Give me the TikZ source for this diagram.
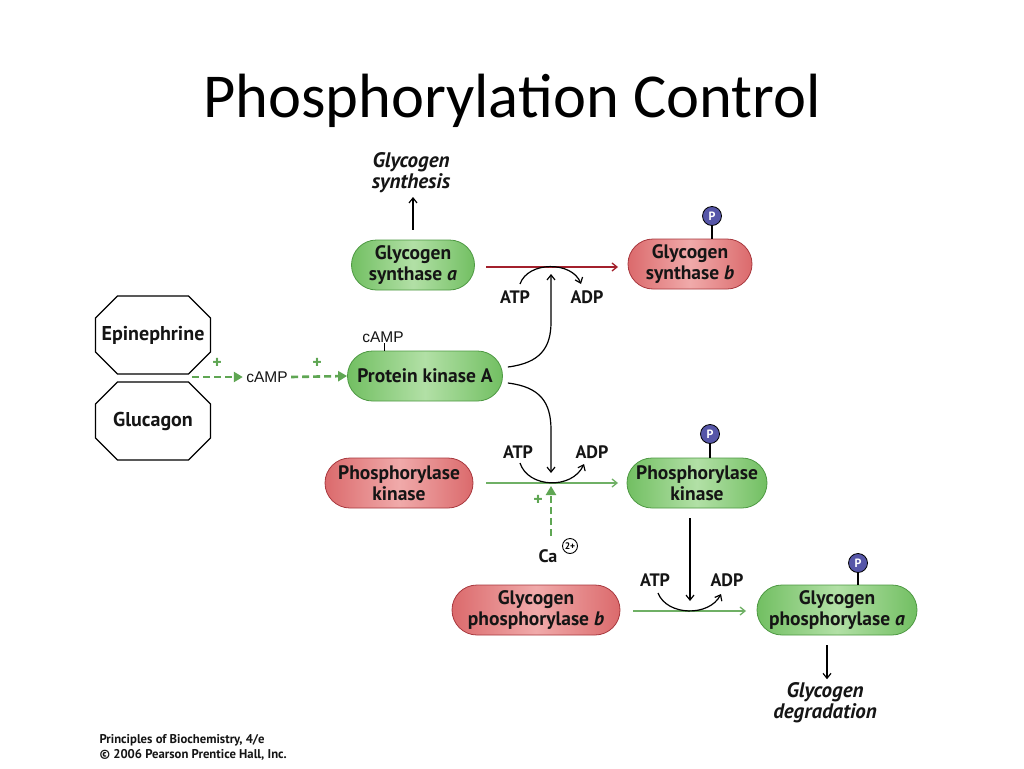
\documentclass[tikz,border=0pt]{standalone}
\usepackage{fontspec}
\setmainfont{Carlito}
\newfontfamily\lab{PT Sans}
\newfontfamily\arl{Liberation Sans}
\usetikzlibrary{arrows.meta,calc}
\definecolor{glight}{HTML}{B2E0A6}
\definecolor{gdark}{HTML}{72BF62}
\definecolor{gborder}{HTML}{4E9943}
\definecolor{rlight}{HTML}{F0AAAA}
\definecolor{rdark}{HTML}{DB6A6C}
\definecolor{rborder}{HTML}{A8383E}
\definecolor{dashg}{HTML}{5FA653}
\definecolor{linegreen}{HTML}{6FB065}
\definecolor{darkred}{HTML}{A3202C}
\definecolor{pcol}{HTML}{5656A8}
\definecolor{txt}{HTML}{151515}
\tikzset{
  pill/.style={line width=0.8pt, rounded corners=25pt, minimum height=50pt,
     align=center, text=txt, inner sep=1pt,
     font=\lab\bfseries\fontsize{19.5}{21}\selectfont},
  greenpill/.style={pill, draw=gborder, shading=axis, left color=gdark, right color=gdark, middle color=glight},
  redpill/.style={pill, draw=rborder, shading=axis, left color=rdark, right color=rdark, middle color=rlight},
  octo/.style={draw=black, line width=1.2pt},
  octolabel/.style={font=\lab\bfseries\fontsize{20}{22}\selectfont, text=txt},
  pball/.style={circle, draw=black, line width=0.8pt, fill=pcol, minimum size=19pt, inner sep=0pt,
     text=white, font=\lab\bfseries\fontsize{12}{12}\selectfont},
  stick/.style={draw=black, line width=1.4pt},
  blk/.style={draw=black, line width=1.2pt, -{Straight Barb[length=5pt,width=8pt]}},
  dasharrow/.style={draw=dashg, line width=2.6pt, dash pattern=on 7pt off 4pt, -{Triangle[length=9pt,width=10pt]}},
  plus/.style={text=dashg, font=\lab\bfseries\fontsize{18}{18}\selectfont},
  atp/.style={font=\lab\bfseries\fontsize{18}{18}\selectfont, text=txt},
  outlabel/.style={font=\lab\bfseries\itshape\fontsize{21}{21}\selectfont, align=center, text=txt},
  camp/.style={font=\arl\fontsize{15.5}{15.5}\selectfont, text=txt},
  foot/.style={font=\lab\bfseries\fontsize{12.7}{15}\selectfont, align=left, text=txt, anchor=west}
}
\begin{document}
\begin{tikzpicture}[x=1pt,y=-1pt]
\useasboundingbox (0,0) rectangle (1024,768);
\fill[white] (0,0) rectangle (1024,768);

% title
\node[font=\fontsize{62.5}{70}\selectfont, anchor=base] (title) at (512,117) {Phosphorylation Control};

% top row
\node[outlabel] (gsyn) at (411,173) {Glycogen\\synthesis};
\node[greenpill, minimum width=123pt] (gsa) at (413,265) {Glycogen\\synthase \textit{a}};
\node[redpill, minimum width=124pt] (gsb) at (690,264) {Glycogen\\synthase \textit{b}};
\node[pball] (p1) at (712,216) {P};
\draw[stick] (p1.south) -- (gsb.north -| p1);
\coordinate (gsyntip) at (413,197);
\draw[blk] ([yshift=10pt]gsa.north) -- (gsyntip);

\coordinate (r1s) at (486,267);
\coordinate (r1e) at (618,267);
\draw[darkred, line width=1.3pt, -{Straight Barb[length=5pt,width=8pt]}] (r1s) -- (r1e);
\node[atp] (atp1) at (515,297) {ATP};
\node[atp] (adp1) at (587,297) {ADP};
\coordinate (a1s) at (520,284);
\coordinate (a1e) at (581,284);
\draw[blk] (a1s) .. controls (528,261) and (572,261) .. (a1e);

% left side
\node[octolabel] (epi) at (153,335) {Epinephrine};
\node[octolabel] (glu) at (153,421) {Glucagon};
\foreach \n in {epi,glu}{
  \draw[octo] ($(\n.center)+(-57.5,-17)$) -- ($(\n.center)+(-35.5,-39)$) -- ($(\n.center)+(35.5,-39)$)
    -- ($(\n.center)+(57.5,-17)$) -- ($(\n.center)+(57.5,17)$) -- ($(\n.center)+(35.5,39)$)
    -- ($(\n.center)+(-35.5,39)$) -- ($(\n.center)+(-57.5,17)$) -- cycle;
}
\coordinate (hs) at (192,377);
\node[camp] (camp1) at (267,377) {cAMP};
\node[greenpill, minimum width=155pt] (pka) at (425,376) {Protein kinase A};
\draw[dasharrow] (hs) -- (camp1.west);
\draw[dasharrow] (camp1.east) -- (pka.west);
\node[plus] at (217,363) {+};
\node[plus] at (317,363) {+};
\node[camp] (camp2) at (383,337) {cAMP};
\draw[line width=1pt] (384,343) -- (pka.north -| 384,0);

% PKA curves
\coordinate (k1) at (551,274);
\coordinate (k2) at (551,473);
\draw[blk] ([shift={(5pt,9pt)}]pka.east) .. controls (540,363) and (551,348) .. (551,322) -- (k1);
\draw[blk] ([shift={(5pt,-7pt)}]pka.east) .. controls (540,387) and (551,402) .. (551,430) -- (k2);

% middle row
\node[redpill, minimum width=148pt] (pkr) at (399,483) {Phosphorylase\\kinase};
\node[greenpill, minimum width=140pt] (pkg) at (697,483) {Phosphorylase\\kinase};
\node[pball] (p2) at (710,434) {P};
\draw[stick] (p2.south) -- (pkg.north -| p2);
\coordinate (g1s) at (486,483);
\coordinate (g1e) at (618,483);
\draw[linegreen, line width=1.3pt, -{Straight Barb[length=5pt,width=8pt]}] (g1s) -- (g1e);
\node[atp] (atp2) at (518,452) {ATP};
\node[atp] (adp2) at (592,452) {ADP};
\coordinate (a2s) at (520,463);
\coordinate (a2e) at (584,464);
\draw[blk] (a2s) .. controls (528,488) and (572,490) .. (a2e);

\node[font=\lab\bfseries\fontsize{18}{18}\selectfont, text=txt] (ca) at (548,556) {Ca};
\node[circle, draw=black, line width=0.9pt, inner sep=0.3pt, minimum size=15pt,
      font=\lab\bfseries\fontsize{9.5}{9.5}\selectfont] (ca2) at (570,546) {2+};
\coordinate (cs) at (551,536);
\coordinate (ce) at (551,486);
\draw[dasharrow] (cs) -- (ce);
\node[plus] at (538,500) {+};

% bottom row
\coordinate (v3s) at (690,518);
\coordinate (v3e) at (690,601);
\draw[blk] (v3s) -- (v3e);
\node[redpill, minimum width=168pt] (gpb) at (536,610) {Glycogen\\phosphorylase \textit{b}};
\node[greenpill, minimum width=160pt] (gpa) at (837,610) {Glycogen\\phosphorylase \textit{a}};
\node[pball] (p3) at (858,563) {P};
\draw[stick] (p3.south) -- (gpa.north -| p3);
\coordinate (g2s) at (633,611);
\coordinate (g2e) at (746,611);
\draw[linegreen, line width=1.3pt, -{Straight Barb[length=5pt,width=8pt]}] (g2s) -- (g2e);
\node[atp] (atp3) at (655,580) {ATP};
\node[atp] (adp3) at (727,580) {ADP};
\coordinate (a3s) at (658,593);
\coordinate (a3e) at (721,594);
\draw[blk] (a3s) .. controls (667,616) and (709,617) .. (a3e);

\node[outlabel] (gdeg) at (825,703) {Glycogen\\degradation};
\draw[blk] ([xshift=-10pt,yshift=-10pt]gpa.south) -- (gdeg.north -| 827,0);

% footer
\node[foot] (ft) at (96,747) {Principles of Biochemistry, 4/e\\ \textcopyright{} 2006 Pearson Prentice Hall, Inc.};
\end{tikzpicture}
\end{document}
